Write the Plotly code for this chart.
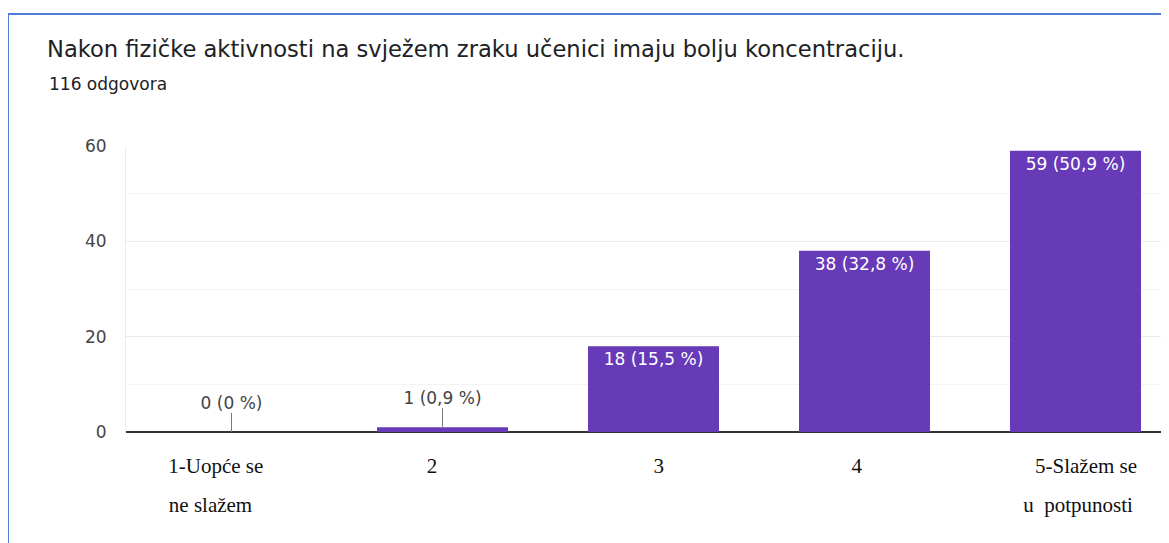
import plotly.graph_objects as go

# ---- data ----
title_text = "Nakon fizičke aktivnosti na svježem zraku učenici imaju bolju koncentraciju."
subtitle_text = "116 odgovora"
categories = ["1-Uopće se ne slažem", "2", "3", "4", "5-Slažem se u potpunosti"]
tick_line1 = ["1-Uopće se", "2", "3", "4", "5-Slažem se"]
tick_line2 = ["ne slažem", "", "", "", "u\u00a0 potpunosti"]
counts = [0, 1, 18, 38, 59]
total = 116
y_tick_values = [0, 20, 40, 60]


def fmt_label(c):
    p = round(c / total * 100, 1)
    s = f"{p:.1f}".replace(".", ",")
    if s.endswith(",0"):
        s = s[:-2]
    return f"{c} ({s} %)"


labels = [fmt_label(c) for c in counts]
idx = list(range(len(categories)))

# ---- style ----
# page body has an 8px margin; the figure is sized to fill the rest of the window
OFF = 8
W, H = 1169 - OFF, 543 - OFF
L, R, T, B = 126 - OFF, 0, 146 - OFF, 111
plot_w = W - L - R
plot_h = H - T - B
cat_px = 211.0
x_range = [-0.5, -0.5 + plot_w / cat_px]
purple = "#673ab7"
small_thr = 5
leader = 4
sans = "DejaVu Sans"
serif = "Liberation Serif"
# horizontal nudges (in non-breaking spaces: +n leading, -n trailing) for the hand-placed tick labels
nudge1 = [-6, -4, 2, -3, 4]
nudge2 = [-8, 0, 0, 0, 1]


def nudge(t, n):
    if not t:
        return t
    pad = "\u00a0" * abs(n)
    return pad + t if n > 0 else t + pad


ticks1 = [nudge(t, n) for t, n in zip(tick_line1, nudge1)]
ticks2 = [nudge(t, n) for t, n in zip(tick_line2, nudge2)]

inside_text = [lab if c >= small_thr else "" for c, lab in zip(counts, labels)]
small_idx = [i for i, c in zip(idx, counts) if c < small_thr]

fig = go.Figure()
fig.add_trace(go.Bar(
    x=idx, y=counts,
    marker=dict(color=purple, line=dict(width=0)),
    width=131 / cat_px,
    text=inside_text,
    textposition="inside",
    insidetextanchor="end",
    textangle=0,
    constraintext="none",
    textfont=dict(family=sans, size=17, color="white"),
    error_y=dict(type="data", symmetric=False,
                 array=[leader if c < small_thr else 0 for c in counts],
                 arrayminus=[0] * len(counts),
                 color="#777777", thickness=1, width=0),
    hoverinfo="skip",
    showlegend=False,
))
fig.add_trace(go.Scatter(
    x=small_idx,
    y=[counts[i] + leader for i in small_idx],
    text=[labels[i] for i in small_idx],
    mode="text",
    textposition="top center",
    textfont=dict(family=sans, size=17, color="#444444"),
    xaxis="x2",
    hoverinfo="skip",
    showlegend=False,
))

fig.update_layout(
    width=W, height=H,
    margin=dict(l=L, r=R, t=T, b=B, pad=0),
    paper_bgcolor="white", plot_bgcolor="white",
    title=dict(text=title_text, xref="container", yref="container",
               x=(47 - OFF) / W, xanchor="left", y=1 - (49 - OFF) / H, yanchor="middle",
               font=dict(family=sans, size=22.6, color="#202124")),
    xaxis=dict(range=x_range, tickvals=idx, ticktext=ticks1,
               showgrid=False, zeroline=False, showline=False, ticks="",
               ticklabelstandoff=19,
               tickfont=dict(family=serif, size=21, color="#111111"),
               fixedrange=True),
    xaxis2=dict(range=x_range, tickvals=idx, ticktext=ticks2,
                overlaying="x", side="bottom", anchor="y",
                showgrid=False, zeroline=False, showline=False, ticks="",
                ticklabelstandoff=58,
                tickfont=dict(family=serif, size=21, color="#111111"),
                fixedrange=True),
    yaxis=dict(range=[0, 60], tickvals=y_tick_values,
               showgrid=True, gridcolor="#ebebeb", gridwidth=1,
               minor=dict(dtick=10, showgrid=True, gridcolor="#f4f4f4", gridwidth=1),
               zeroline=True, zerolinecolor="#333333", zerolinewidth=2,
               showline=True, linecolor="#ebebeb", linewidth=1,
               ticks="", ticklabelstandoff=15,
               tickfont=dict(family=sans, size=17, color="#444444"),
               fixedrange=True),
    annotations=[dict(text=subtitle_text, xref="paper", yref="paper",
                      x=(47 - 126) / plot_w, xanchor="left",
                      y=1 + (146 - 84) / plot_h, yanchor="middle",
                      showarrow=False,
                      font=dict(family=sans, size=17, color="#202124"))],
    shapes=[
        dict(type="line", xref="paper", yref="paper",
             x0=(8 - 126) / plot_w, x1=1.2,
             y0=1 + (146 - 14) / plot_h, y1=1 + (146 - 14) / plot_h,
             line=dict(color="#4f7fd3", width=2)),
        dict(type="line", xref="paper", yref="paper",
             x0=(8 - 126) / plot_w, x1=(8 - 126) / plot_w,
             y0=1 + (146 - 14) / plot_h, y1=-0.6,
             line=dict(color="#4f7fd3", width=2)),
    ],
)

fig.write_html("out.html", config={"displayModeBar": False})
